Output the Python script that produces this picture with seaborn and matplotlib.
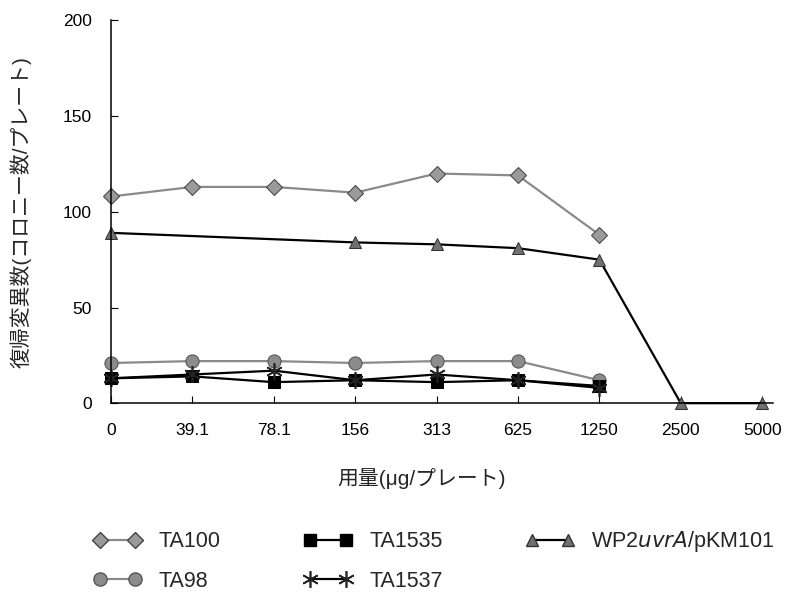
import matplotlib
matplotlib.use("Agg")
from matplotlib import pyplot as plt
from matplotlib.lines import Line2D
import seaborn as sns
import pandas as pd

doses = ['0', '39.1', '78.1', '156', '313', '625', '1250', '2500', '5000']

ta100 = [108, 113, 113, 110, 120, 119, 88]
ta98 = [21, 22, 22, 21, 22, 22, 12]
ta1535 = [13, 14, 11, 12, 11, 12, 9]
ta1537 = [13, 15, 17, 12, 15, 12, 8]
wp2_doses = ['0', '156', '313', '625', '1250', '2500', '5000']
wp2 = [89, 84, 83, 81, 75, 0, 0]

sns.set_style('ticks')
plt.rcParams['font.family'] = ['Liberation Sans', 'Noto Sans CJK JP', 'DejaVu Sans']

def frame(ds, vals):
    return pd.DataFrame({'x': [doses.index(d) for d in ds], 'y': vals})

series = [
    ('TA100', frame(doses[:7], ta100), dict(color='#8a8a8a', marker='D', markersize=8,
                                            markerfacecolor='#9a9a9a', markeredgecolor='#444444')),
    ('TA98', frame(doses[:7], ta98), dict(color='#8a8a8a', marker='o', markersize=9.5,
                                          markerfacecolor='#8c8c8c', markeredgecolor='#555555')),
    ('TA1535', frame(doses[:7], ta1535), dict(color='black', marker='s', markersize=8,
                                              markerfacecolor='black', markeredgecolor='black')),
    ('TA1537', frame(doses[:7], ta1537), dict(color='black', marker=(6, 2, 0), markersize=12,
                                              markeredgecolor='#222222', markeredgewidth=1.2)),
    ('WP2$\\it{uvrA}$/pKM101', frame(wp2_doses, wp2), dict(color='black', marker='^', markersize=9,
                                                          markerfacecolor='#707070', markeredgecolor='#333333')),
]

fig = plt.figure(figsize=(7.85, 6), dpi=100)
ax = fig.add_axes([0.1414, 0.328, 0.843, 0.638])

handles = []
for name, df, st in series:
    sns.lineplot(data=df, x='x', y='y', ax=ax, linewidth=1.6, clip_on=False, **st)
    handles.append(Line2D([0], [0], linewidth=1.6, label=name, **st))

ax.set_xlim(0, 8.13)
ax.set_ylim(0, 200)
ax.set_yticks([0, 50, 100, 150, 200])
ax.set_xticks(range(len(doses)))
ax.set_xticklabels(doses)
ax.tick_params(axis='both', direction='in', length=5, labelsize=12.5, colors='black')
ax.tick_params(axis='x', pad=14)
ax.tick_params(axis='y', pad=14)
for s in ['top', 'right']:
    ax.spines[s].set_visible(False)
for s in ['left', 'bottom']:
    ax.spines[s].set_color('black')
    ax.spines[s].set_linewidth(1.1)

ax.set_xlabel('用量(μg/プレート)', fontsize=15, labelpad=22)
ax.xaxis.label.set_x(0.47)
ax.set_ylabel('復帰変異数(コロニー数/プレート)', fontsize=15, labelpad=22)

fig.legend(handles=handles, ncol=3, loc='upper left', bbox_to_anchor=(0.094, 0.15),
           frameon=False, fontsize=15.5, numpoints=2, handlelength=2.25,
           handletextpad=0.8, columnspacing=3.85, labelspacing=0.86)

plt.savefig('out.png', dpi=100)
